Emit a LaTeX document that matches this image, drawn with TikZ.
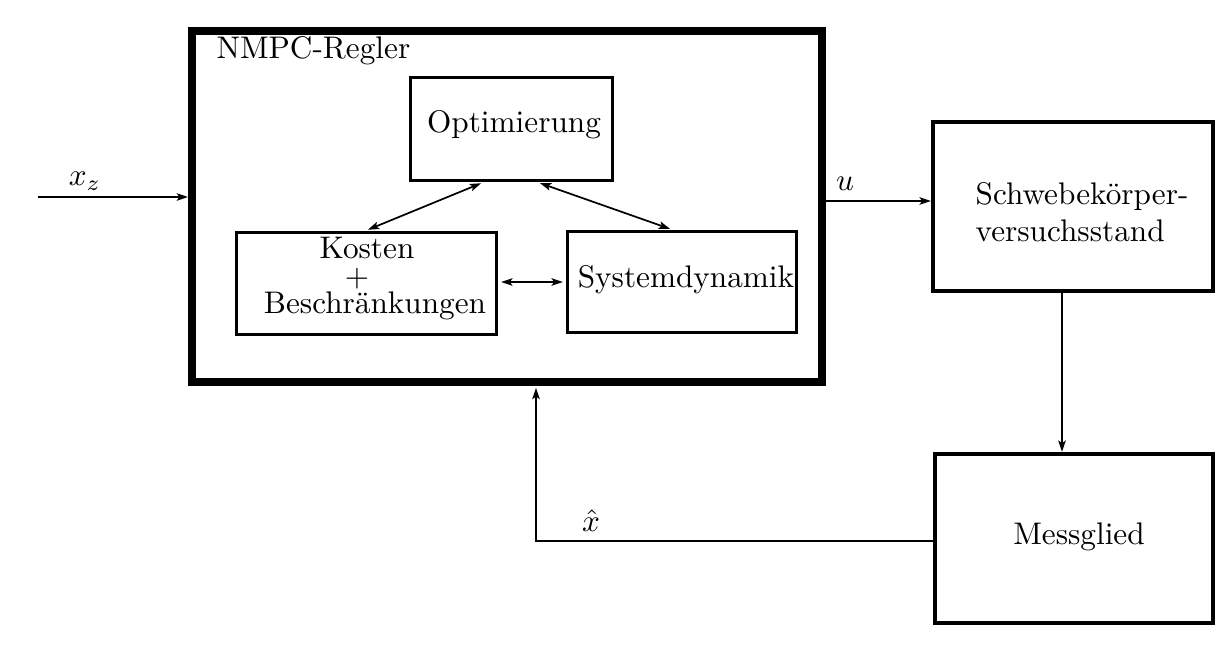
\documentclass[tikz,border=0pt]{standalone}
\usetikzlibrary{arrows.meta}
\begin{document}
\begin{tikzpicture}[x=0.32pt,y=-0.32pt,
  tip/.style={-{Stealth[length=3.6pt,width=2.4pt,inset=0.8pt]}},
  both/.style={{Stealth[length=3.6pt,width=2.4pt,inset=0.8pt]}-{Stealth[length=3.6pt,width=2.4pt,inset=0.8pt]}},
  conn/.style={line width=0.55pt},
  inner/.style={draw,line width=1pt,inner sep=0pt},
  outerbox/.style={draw,line width=1.4pt,inner sep=0pt},
  lbl/.style={inner sep=0pt}]
\useasboundingbox (0,0) rectangle (1228,646);
% boxes
\node[draw,line width=2.56pt,inner sep=0pt,minimum width=630*0.32pt,minimum height=351*0.32pt] (nmpc) at (507,206.5) {};
\node[lbl,anchor=base west] (title) at (216,59) {NMPC-Regler};
\node[inner,minimum width=202*0.32pt,minimum height=103*0.32pt] (opt) at (511.5,129) {};
\node[lbl] (optt) at (514,125) {Optimierung};
\node[inner,minimum width=260*0.32pt,minimum height=102*0.32pt] (kost) at (366.5,283.5) {};
\node[lbl,anchor=base] (kostt) at (367,259) {Kosten};
\node[lbl,anchor=base] (plus) at (357,287) {+};
\node[lbl,anchor=base] (bescht) at (375,314) {Beschr\"ankungen};
\node[inner,minimum width=229*0.32pt,minimum height=101*0.32pt] (sys) at (682,282) {};
\node[lbl] (syst) at (686,280) {Systemdynamik};
\node[outerbox,minimum width=280*0.32pt,minimum height=169*0.32pt] (schw) at (1073,206.5) {};
\node[lbl,align=left,anchor=west] (schwt) at (975,212) {Schwebek\"orper-\\versuchsstand};
\node[outerbox,minimum width=278*0.32pt,minimum height=169*0.32pt] (mess) at (1074,538.5) {};
\node[lbl] (messt) at (1079,537) {Messglied};
% coordinates
\coordinate (xin) at (38,197);
\coordinate (uy) at (0,201);
\coordinate (sx) at (1062,0);
\coordinate (fy) at (0,541);
\coordinate (fx) at (536,0);
\coordinate (o1) at (484,0);
\coordinate (o2) at (537,0);
\coordinate (k1) at (365,0);
\coordinate (s1) at (673,0);
\coordinate (ky) at (0,282);
% connectors
\draw[conn,tip] (xin) -- (xin -| nmpc.west);
\node[lbl] (xz) at (85,181) {$x_z$};
\draw[conn,tip] (nmpc.east |- uy) -- (schw.west |- uy);
\node[lbl] (u) at (845,184) {$u$};
\draw[conn,tip] (schw.south -| sx) -- (mess.north -| sx);
\draw[conn,tip] (mess.west |- fy) -| ([yshift=-0.6pt]fx |- nmpc.south);
\node[lbl] (xh) at (591,521) {$\hat{x}$};
\draw[conn,both,shorten <=1pt,shorten >=1pt] (opt.south -| o1) -- (kost.north -| k1);
\draw[conn,both,shorten <=1pt,shorten >=1pt] (opt.south -| o2) -- (sys.north -| s1);
\draw[conn,both,shorten <=1pt,shorten >=1pt] (kost.east |- ky) -- (sys.west |- ky);
\end{tikzpicture}
\end{document}
